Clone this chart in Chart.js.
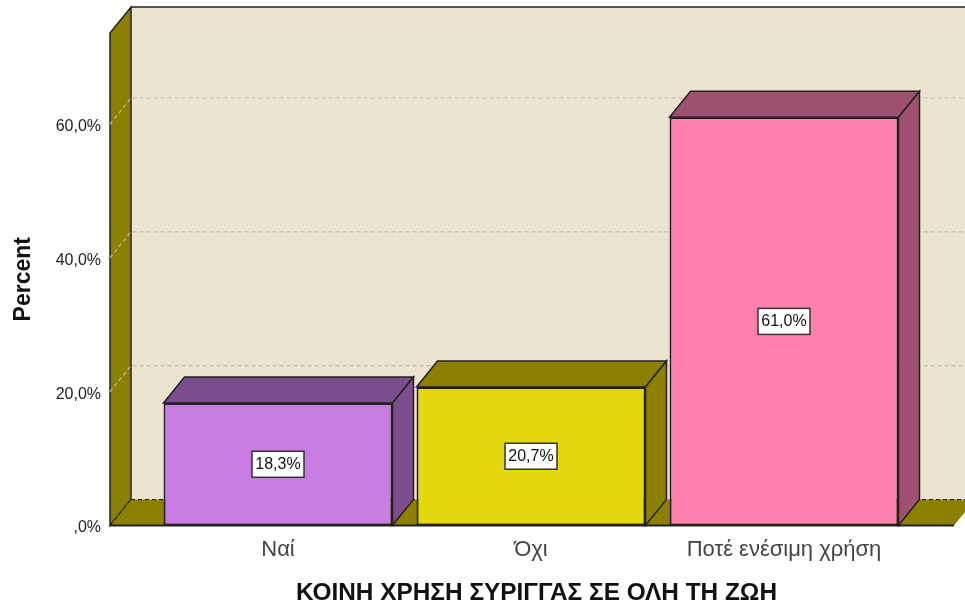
<!DOCTYPE html>
<html>
<head>
<meta charset="utf-8">
<title>Chart</title>
<script src="https://cdn.jsdelivr.net/npm/chart.js@4"></script>
<style>
  body { margin: 0; background: #ffffff; }
  canvas { display: block; }
</style>
</head>
<body>
<canvas id="myChart" width="965" height="607"></canvas>
<script>
let categories = ["Ναί", "Όχι", "Ποτέ ενέσιμη χρήση"];
let percentValues = [18.3, 20.7, 61.0];
let valueLabels = ["18,3%", "20,7%", "61,0%"];
let yTickValues = [0, 20, 40, 60];
let yTickLabels = [",0%", "20,0%", "40,0%", "60,0%"];
let xTitle = "ΚΟΙΝΗ ΧΡΗΣΗ ΣΥΡΙΓΓΑΣ ΣΕ ΟΛΗ ΤΗ ΖΩΗ";
let frontColors = ["#c97de3", "#e5d80c", "#ff7faf"];
let darkColors = ["#7d4e8d", "#8c8000", "#9d5070"];

let depthX = 21;
let depthY = 26;
let lineColor = "#222222";

function poly(ctx, points, fill) {
  ctx.beginPath();
  ctx.moveTo(points[0][0], points[0][1]);
  for (let i = 1; i < points.length; i++) ctx.lineTo(points[i][0], points[i][1]);
  ctx.closePath();
  if (fill) {
    ctx.fillStyle = fill;
    ctx.fill();
  }
  ctx.strokeStyle = lineColor;
  ctx.lineWidth = 1.5;
  ctx.stroke();
}

// walls, floor and gridlines behind the bars
let wallsPlugin = {
  id: "walls",
  beforeDraw(chart) {
    // y labels sit slightly under their tick position in the picture
    chart.scales.y.getLabelItems(chart.chartArea).forEach(function(item) {
      item.options.translation = [item.options.translation[0], item.options.translation[1] + 2.5];
    });
  },
  beforeDatasetsDraw(chart) {
    let ctx = chart.ctx;
    let yScale = chart.scales.y;
    let area = chart.chartArea;
    let left = area.left - 41.5;
    let right = area.right + 43.5;
    let bottom = area.bottom;
    let top = area.top;
    ctx.save();

    ctx.fillStyle = "#eae4d0";
    ctx.fillRect(left + depthX, top - depthY, 965, bottom - top);
    ctx.strokeStyle = lineColor;
    ctx.lineWidth = 1.5;
    ctx.beginPath();
    ctx.moveTo(left + depthX, top - depthY);
    ctx.lineTo(965, top - depthY);
    ctx.stroke();

    poly(ctx, [[left, top], [left + depthX, top - depthY], [left + depthX, bottom - depthY], [left, bottom]], "#8c8000");

    ctx.fillStyle = "#8c8000";
    ctx.beginPath();
    ctx.moveTo(left, bottom);
    ctx.lineTo(left + depthX, bottom - depthY);
    ctx.lineTo(right + depthX, bottom - depthY);
    ctx.lineTo(right, bottom);
    ctx.closePath();
    ctx.fill();

    ctx.setLineDash([4, 3]);
    ctx.lineWidth = 1;
    ctx.strokeStyle = "#111111";
    ctx.beginPath();
    ctx.moveTo(left + depthX, bottom - depthY);
    ctx.lineTo(965, bottom - depthY);
    ctx.moveTo(left, bottom);
    ctx.lineTo(left + depthX, bottom - depthY);
    ctx.stroke();

    ctx.strokeStyle = "#bfbbb0";
    ctx.lineWidth = 1.2;
    ctx.beginPath();
    yTickValues.forEach(function(v) {
      if (v === 0) return;
      let y = yScale.getPixelForValue(v);
      ctx.moveTo(left, y);
      ctx.lineTo(left + depthX, y - depthY);
      ctx.lineTo(965, y - depthY);
    });
    ctx.stroke();
    ctx.setLineDash([]);

    ctx.strokeStyle = lineColor;
    ctx.lineWidth = 2;
    ctx.beginPath();
    ctx.moveTo(left, bottom);
    ctx.lineTo(right, bottom);
    ctx.stroke();
    ctx.restore();
  },
  afterDatasetsDraw(chart) {
    let ctx = chart.ctx;
    let bars = chart.getDatasetMeta(0).data;
    ctx.save();
    bars.forEach(function(bar, i) {
      let x0 = bar.x - bar.width / 2;
      let x1 = bar.x + bar.width / 2;
      let y0 = bar.y;
      let y1 = bar.base;
      poly(ctx, [[x0, y0], [x0 + depthX, y0 - depthY], [x1 + depthX, y0 - depthY], [x1, y0]], darkColors[i]);
      poly(ctx, [[x1, y0], [x1 + depthX, y0 - depthY], [x1 + depthX, y1 - depthY], [x1, y1]], darkColors[i]);

      let cy = (y0 + y1) / 2;
      ctx.fillStyle = "#ffffff";
      ctx.strokeStyle = "#333333";
      ctx.lineWidth = 1.5;
      ctx.fillRect(bar.x - 26, cy - 13, 52, 26);
      ctx.strokeRect(bar.x - 26, cy - 13, 52, 26);
      ctx.fillStyle = "#111111";
      ctx.font = "16px 'Liberation Sans'";
      ctx.textAlign = "center";
      ctx.textBaseline = "middle";
      ctx.fillText(valueLabels[i], bar.x, cy + 0.5);
    });

    // axis title sits a little right of the plot centre
    ctx.fillStyle = "#111111";
    ctx.font = "bold 24.4px 'Liberation Sans'";
    ctx.textAlign = "center";
    ctx.textBaseline = "middle";
    ctx.fillText(xTitle, 536.5, 593);
    ctx.restore();
  }
};

new Chart("myChart", {
  type: "bar",
  data: {
    labels: categories,
    datasets: [{
      data: percentValues,
      backgroundColor: frontColors,
      borderColor: lineColor,
      borderWidth: 2,
      borderSkipped: false,
      barPercentage: 0.905,
      categoryPercentage: 1
    }]
  },
  options: {
    responsive: false,
    animation: false,
    layout: { autoPadding: false, padding: { top: 33, right: 54.5, left: 0, bottom: 0 } },
    plugins: { legend: { display: false }, tooltip: { enabled: false } },
    scales: {
      x: {
        grid: { display: false },
        border: { display: false },
        afterFit: function(scale) { scale.height = 81.5; },
        ticks: {
          color: "#444444",
          padding: 3,
          maxRotation: 0,
          font: { family: "'Liberation Sans'", size: 22 }
        }
      },
      y: {
        min: 0,
        max: 73.6,
        grid: { display: false },
        border: { display: false },
        afterFit: function(scale) {
          scale.width = 151.5;
          // tick padding is used for the label gap only, not to shrink the plot
          scale.paddingTop = 0;
          scale.paddingBottom = 0;
        },
        afterBuildTicks: function(scale) {
          scale.ticks = yTickValues.map(function(v) { return { value: v }; });
        },
        ticks: {
          color: "#222222",
          padding: 42.5,
          font: { family: "'Liberation Sans'", size: 16 },
          callback: function(value) { return yTickLabels[yTickValues.indexOf(value)]; }
        },
        title: {
          display: true,
          text: "Percent",
          color: "#111111",
          padding: { top: 10, bottom: 0 },
          font: { family: "'Liberation Sans'", size: 23, weight: "bold" }
        }
      }
    }
  },
  plugins: [wallsPlugin]
});
</script>
</body>
</html>
